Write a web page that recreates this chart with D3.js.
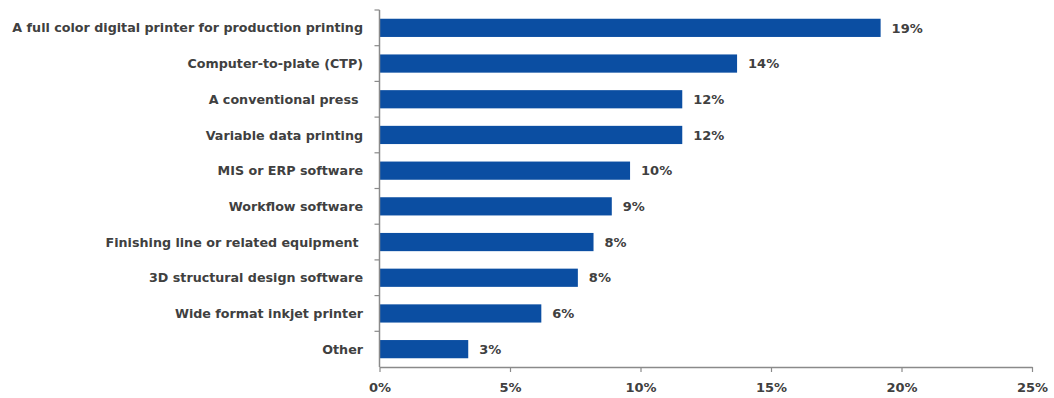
<!DOCTYPE html>
<html>
<head>
<meta charset="utf-8">
<script src="https://cdn.jsdelivr.net/npm/d3@7"></script>
<style>
  html, body { margin: 0; padding: 0; background: #fff; }
  svg { display: block; }
  text { font-family: "DejaVu Sans", sans-serif; font-weight: bold; fill: #404040; white-space: pre; }
</style>
</head>
<body>
<svg id="chart" width="1054" height="398"></svg>
<script>
// Share of respondents planning each equipment purchase
const categories = [
  "A full color digital printer for production printing",
  "Computer-to-plate (CTP)",
  "A conventional press ",
  "Variable data printing",
  "MIS or ERP software",
  "Workflow software",
  "Finishing line or related equipment ",
  "3D structural design software",
  "Wide format inkjet printer",
  "Other"
];
const values = [0.192, 0.137, 0.116, 0.116, 0.096, 0.089, 0.082, 0.076, 0.062, 0.034];
const xTicks = [0, 0.05, 0.10, 0.15, 0.20, 0.25];

const svg = d3.select("#chart");
const plotLeft = 379.5, plotRight = 1032, plotTop = 10, plotBottom = 367;

const x = d3.scaleLinear().domain([0, 0.25]).range([plotLeft, plotRight]);
const y = d3.scaleBand().domain(categories).range([plotTop, plotBottom]).paddingInner(0.49).paddingOuter(0.245);
const band = (plotBottom - plotTop) / categories.length;
const fmt = d3.format(".0%");

// bars
svg.append("g").selectAll("rect").data(values).join("rect")
  .attr("x", x(0))
  .attr("y", (d, i) => y(categories[i]))
  .attr("width", d => x(d) - x(0))
  .attr("height", y.bandwidth())
  .attr("fill", "#0b4ea2");

// value labels
svg.append("g").selectAll("text").data(values).join("text")
  .attr("x", d => x(d) + 11)
  .attr("y", (d, i) => y(categories[i]) + y.bandwidth() / 2)
  .attr("dy", "0.36em")
  .attr("font-size", 13)
  .text(d => fmt(d));

// x axis
const xAxis = svg.append("g").attr("transform", `translate(0,${plotBottom})`)
  .call(d3.axisBottom(x).tickValues(xTicks).tickFormat(fmt).tickSize(5).tickSizeOuter(0));
xAxis.select(".domain").attr("stroke", "#8a8a8a").attr("stroke-width", 1.5);
xAxis.selectAll(".tick line").attr("stroke", "#8a8a8a").attr("stroke-width", 1.2);
xAxis.selectAll(".tick text").attr("font-size", 13).attr("font-family", null).attr("fill", null).attr("y", 20).attr("dy", "0.36em");

// y axis: vertical line with ticks at category boundaries
const yg = svg.append("g");
yg.append("line").attr("x1", plotLeft).attr("x2", plotLeft).attr("y1", plotTop).attr("y2", plotBottom)
  .attr("stroke", "#8a8a8a").attr("stroke-width", 1.5);
yg.selectAll("line.tick").data(d3.range(categories.length)).join("line")
  .attr("class", "tick")
  .attr("x1", plotLeft - 5).attr("x2", plotLeft)
  .attr("y1", i => plotTop + i * band).attr("y2", i => plotTop + i * band)
  .attr("stroke", "#8a8a8a").attr("stroke-width", 1.2);

// category labels
yg.selectAll("text").data(categories).join("text")
  .attr("x", 363)
  .attr("y", d => y(d) + y.bandwidth() / 2)
  .attr("dy", "0.36em")
  .attr("text-anchor", "end")
  .attr("font-size", 12.7)
  .text(d => d);
</script>
</body>
</html>
